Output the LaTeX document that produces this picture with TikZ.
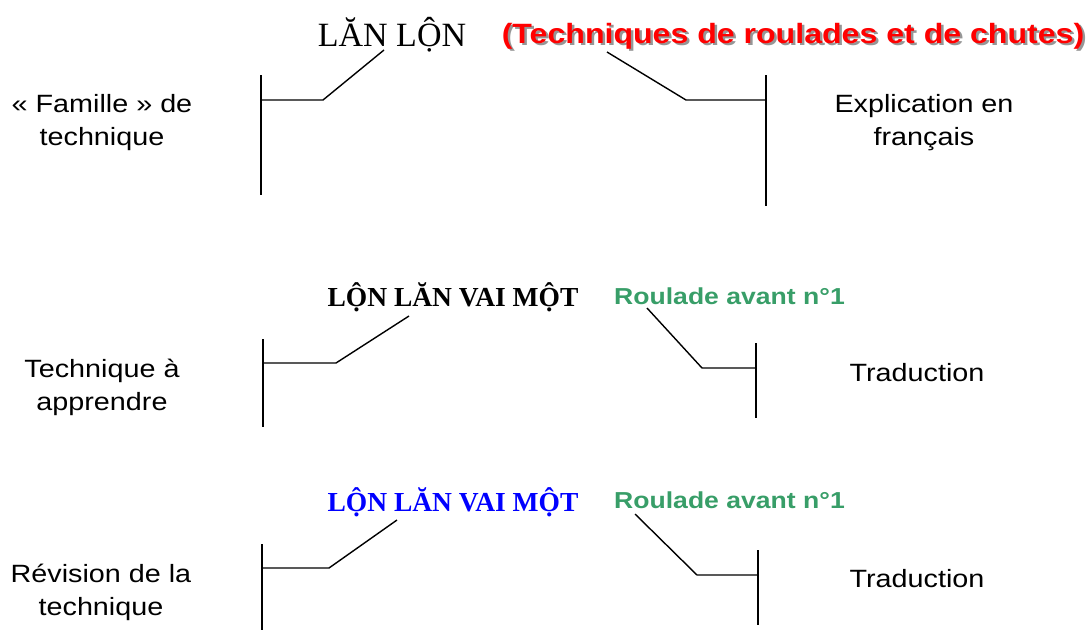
\documentclass[tikz,border=0pt]{standalone}
\usepackage{fontspec}
\setmainfont{Liberation Serif}
\newfontfamily\lab[FakeStretch=1.15]{Liberation Sans}
\definecolor{rgreen}{RGB}{56,158,104}
\definecolor{shadowgray}{RGB}{150,150,150}
\definecolor{tred}{RGB}{255,0,0}
\definecolor{tblue}{RGB}{0,0,255}
\newcommand{\shadowtext}[1]{\makebox[0pt][l]{\hspace{2.5pt}\raisebox{-2.5pt}{\textcolor{shadowgray}{#1}}}\textcolor{tred}{#1}}
\begin{document}
\begin{tikzpicture}[x=1pt,y=-1pt,line width=1.4pt,
  lbl/.style={font=\lab\fontsize{25}{33.5}\selectfont,align=center,anchor=base,inner sep=0pt},
  vn/.style={font=\bfseries\fontsize{27.5}{30}\selectfont,anchor=base,inner sep=0pt},
  vntitle/.style={font=\fontsize{34}{38}\selectfont,anchor=base,inner sep=0pt},
  fr/.style={font=\lab\bfseries\fontsize{23.1}{26}\selectfont,text=rgreen,anchor=base,inner sep=0pt},
  frtitle/.style={font=\lab\bfseries\fontsize{27.9}{30}\selectfont,anchor=base,inner sep=0pt},
  conn/.style={draw=black,line width=1.4pt}]
\useasboundingbox (0,0) rectangle (1089,630);

% ---- Block 1 ----
\node[vntitle] (t1) at (392,46) {LĂN LỘN};
\node[frtitle] (e1) at (793,43) {\shadowtext{(Techniques de roulades et de chutes)}};
\node[lbl] (l1) at (102,145.5) {« Famille » de\\technique};
\node[lbl] (r1) at (924,145.5) {Explication en\\français};

\coordinate (l1top) at (261,75);
\coordinate (l1bot) at (261,195);
\coordinate (l1mid) at (261,100);
\coordinate (l1k) at (323,100);
\coordinate (l1e) at (384,50);
\draw[conn] (l1top) -- (l1bot);
\draw[conn] (l1mid) -- (l1k) -- (l1e);

\coordinate (r1top) at (766,75);
\coordinate (r1bot) at (766,206);
\coordinate (r1mid) at (766,100);
\coordinate (r1k) at (686,100);
\coordinate (r1e) at (607,52);
\draw[conn] (r1top) -- (r1bot);
\draw[conn] (r1mid) -- (r1k) -- (r1e);

% ---- Block 2 ----
\node[vn] (t2) at (453,306) {LỘN LĂN VAI MỘT};
\node[fr] (e2) at (729.5,304) {Roulade avant n°1};
\node[lbl] (l2) at (102,410.5) {Technique à\\apprendre};
\node[lbl] (r2) at (917,381) {Traduction};

\coordinate (l2top) at (263,339);
\coordinate (l2bot) at (263,427);
\coordinate (l2mid) at (263,363);
\coordinate (l2k) at (336,363);
\coordinate (l2e) at (409,316);
\draw[conn] (l2top) -- (l2bot);
\draw[conn] (l2mid) -- (l2k) -- (l2e);

\coordinate (r2top) at (756,343);
\coordinate (r2bot) at (756,418);
\coordinate (r2mid) at (756,368);
\coordinate (r2k) at (702,368);
\coordinate (r2e) at (647,308);
\draw[conn] (r2top) -- (r2bot);
\draw[conn] (r2mid) -- (r2k) -- (r2e);

% ---- Block 3 ----
\node[vn,text=tblue] (t3) at (453,511) {LỘN LĂN VAI MỘT};
\node[fr] (e3) at (729.5,508) {Roulade avant n°1};
\node[lbl] (l3) at (101,615.5) {Révision de la\\technique};
\node[lbl] (r3) at (917,587) {Traduction};

\coordinate (l3top) at (262,544);
\coordinate (l3bot) at (262,630);
\coordinate (l3mid) at (262,568);
\coordinate (l3k) at (329,568);
\coordinate (l3e) at (397,520);
\draw[conn] (l3top) -- (l3bot);
\draw[conn] (l3mid) -- (l3k) -- (l3e);

\coordinate (r3top) at (758,550);
\coordinate (r3bot) at (758,625);
\coordinate (r3mid) at (758,575);
\coordinate (r3k) at (697,575);
\coordinate (r3e) at (635,514);
\draw[conn] (r3top) -- (r3bot);
\draw[conn] (r3mid) -- (r3k) -- (r3e);
\end{tikzpicture}
\end{document}
